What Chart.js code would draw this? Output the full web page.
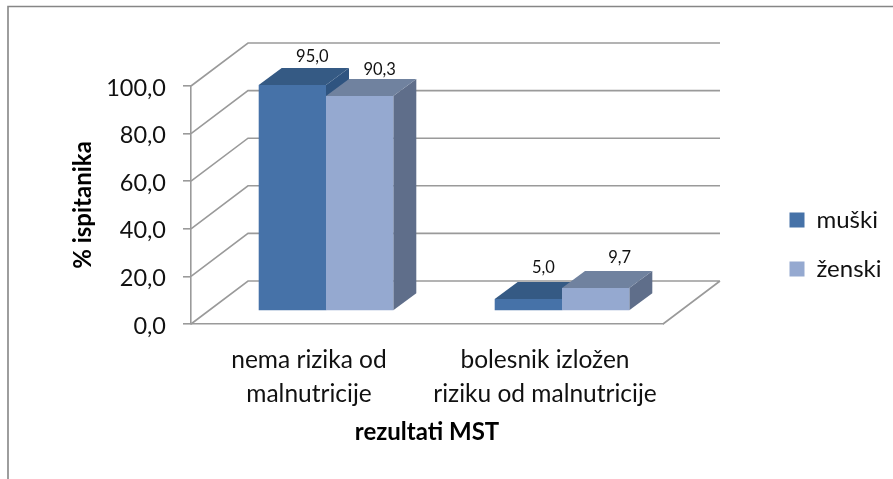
<!DOCTYPE html>
<html><head><meta charset="utf-8">
<style>html,body{margin:0;padding:0;background:#fff}#w{width:893px;height:479px;position:relative}</style>
<script src="https://cdn.jsdelivr.net/npm/chart.js@4"></script>
</head><body><div id="w"><canvas id="c" width="893" height="479"></canvas></div>
<script>
const categories = [["nema rizika od","malnutricije"],["bolesnik izložen","riziku od malnutricije"]];
const muski = [95.0, 5.0];
const zenski = [90.3, 9.7];
const seriesNames = ["muški","ženski"];
const yTitle = "% ispitanika";
const xTitle = "rezultati MST";

const FONT = "Lato, 'Open Sans', sans-serif";
const GRID = "#9a9a9a";
const TEXT = "#111";
const WALL = {dx:57, dy:-43};
const BAR_SHIFT = {dx:17, dy:-13};
const BAR_DEPTH = {dx:23, dy:-17};
const FACES = [
  {front:"#4672A8", top:"#355A84", side:"#2F5480"},
  {front:"#95A9D0", top:"#70829F", side:"#5F6E8A"}
];
const LABEL_NUDGE = [[[20,-11],[15,-14]],[[20,-9],[24,-13]]];
const fmt = v => Number(v).toFixed(1).replace(".",",");

function poly(ctx, pts, fill){
  ctx.beginPath(); pts.forEach((p,i)=> i?ctx.lineTo(p[0],p[1]):ctx.moveTo(p[0],p[1])); ctx.closePath();
  ctx.fillStyle=fill; ctx.fill();
}
const scene = {
  id:"scene",
  beforeDraw(chart){
    const ctx=chart.ctx;
    ctx.save();
    ctx.strokeStyle="#868686"; ctx.lineWidth=1.6;
    ctx.beginPath(); ctx.moveTo(8,479); ctx.lineTo(8,6.5); ctx.lineTo(893,6.5); ctx.stroke();
    ctx.restore();
  },
  afterLayout(chart){
    const lg=chart.legend; if(!lg) return;
    const w=lg.right-lg.left, h=lg.bottom-lg.top;
    lg.left=764.5; lg.right=764.5+w; lg.top=183; lg.bottom=183+h;
  },
  beforeDatasetsDraw(chart){
    const {ctx,scales:{x,y},chartArea:a}=chart;
    ctx.save();
    ctx.strokeStyle=GRID; ctx.lineWidth=1.6;
    ctx.beginPath();
    y.ticks.forEach(t=>{
      const py=y.getPixelForValue(t.value);
      ctx.moveTo(a.left,py); ctx.lineTo(a.left+WALL.dx,py+WALL.dy); ctx.lineTo(a.right+WALL.dx,py+WALL.dy);
    });
    const y0=y.getPixelForValue(0);
    ctx.moveTo(a.right,y0); ctx.lineTo(a.right+WALL.dx,y0+WALL.dy);
    ctx.stroke();
    ctx.translate(BAR_SHIFT.dx,BAR_SHIFT.dy);
    const d=BAR_DEPTH;
    chart.data.datasets.forEach((ds,di)=>{
      chart.getDatasetMeta(di).data.forEach(b=>{
        const l=b.x-b.width/2,r=b.x+b.width/2,t=b.y,bt=b.base;
        poly(ctx,[[r,t],[r+d.dx,t+d.dy],[r+d.dx,bt+d.dy],[r,bt]],FACES[di].side);
        poly(ctx,[[l,t],[l+d.dx,t+d.dy],[r+d.dx,t+d.dy],[r,t]],FACES[di].top);
      });
    });
  },
  afterDatasetsDraw(chart){
    const ctx=chart.ctx;
    ctx.restore();
    ctx.save();
    ctx.font="16.5px "+FONT; ctx.fillStyle=TEXT; ctx.textAlign="center"; ctx.textBaseline="middle";
    chart.data.datasets.forEach((ds,di)=>{
      chart.getDatasetMeta(di).data.forEach((b,i)=>{
        const n=LABEL_NUDGE[di][i];
        ctx.fillText(fmt(ds.data[i]), b.x+BAR_SHIFT.dx+n[0], b.y+BAR_SHIFT.dy+BAR_DEPTH.dy+n[1]);
      });
    });
    ctx.restore();
  }
};
new Chart(document.getElementById("c"),{
  type:"bar",
  data:{labels:categories,datasets:[
    {label:seriesNames[0],data:muski,backgroundColor:FACES[0].front},
    {label:seriesNames[1],data:zenski,backgroundColor:FACES[1].front}
  ]},
  plugins:[scene],
  options:{
    responsive:false,animation:false,
    layout:{padding:{left:69,top:86,right:230,bottom:30}},
    datasets:{bar:{categoryPercentage:134.6/236,barPercentage:1}},
    plugins:{
      tooltip:{enabled:false},
      legend:{position:"chartArea",align:"start",labels:{color:TEXT,font:{family:FONT,size:24},boxWidth:15,boxHeight:15,padding:25}}
    },
    scales:{
      x:{
        grid:{display:false},
        border:{display:true,color:GRID,width:1.6},
        ticks:{color:TEXT,font:{family:FONT,size:24.5,lineHeight:1.35},padding:12,maxRotation:0,autoSkip:false},
        title:{display:true,text:xTitle,color:"#000",font:{family:FONT,size:24,weight:"bold"},padding:{top:4,bottom:2}},
        afterFit(s){s.height=479-324-30;}
      },
      y:{
        min:0,max:100,
        grid:{drawOnChartArea:false,drawTicks:true,tickLength:8,color:GRID,lineWidth:1.6},
        border:{display:true,color:GRID,width:1.6},
        ticks:{stepSize:20,color:TEXT,font:{family:FONT,size:23.5},padding:17,labelOffset:2,callback:v=>fmt(v)},
        title:{display:true,text:yTitle,color:"#000",font:{family:FONT,size:24,weight:"bold"},padding:{top:0,bottom:0}},
        afterFit(s){s.width=191-69;}
      }
    }
  }
});
</script></body></html>
